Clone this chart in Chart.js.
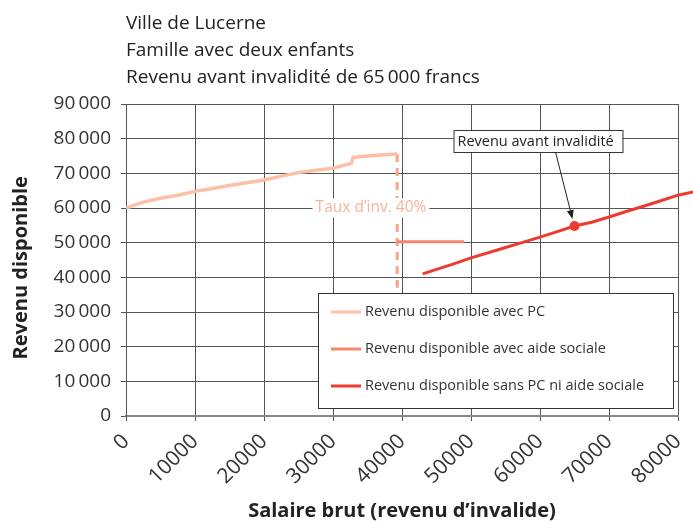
<!DOCTYPE html>
<html>
<head>
<meta charset="utf-8">
<script src="https://cdn.jsdelivr.net/npm/chart.js@4.4.1/dist/chart.umd.min.js"></script>
<style>
  html, body { margin: 0; padding: 0; background: #fff; }
  #wrap { width: 693px; height: 523px; }
</style>
</head>
<body>
<div id="wrap"><canvas id="chart" width="693" height="523"></canvas></div>
<script>
const FONT = '"Open Sans", "Noto Sans", sans-serif'

const titleLines = [
  "Ville de Lucerne",
  "Famille avec deux enfants",
  "Revenu avant invalidité de 65\u2009000 francs"
]

// Revenu disponible avec PC
const pcSalary = [0, 2500, 5000, 7500, 10000, 12500, 15000, 17500, 20000, 22500, 25000, 27500, 30000, 32700, 32900, 35000, 37000, 39300]
const pcIncome = [60000, 61700, 62800, 63700, 64800, 65600, 66500, 67300, 68100, 69200, 70200, 70900, 71500, 72900, 74600, 75000, 75300, 75600]

// Revenu disponible avec aide sociale
const aideSalary = [39300, 49000]
const aideIncome = [50300, 50300]

// Revenu disponible sans PC ni aide sociale
const sansSalary = [43000, 45000, 47500, 50000, 52500, 55000, 57500, 60000, 62500, 65000, 67500, 70000, 72500, 75000, 77500, 80000, 82200]
const sansIncome = [41000, 42300, 43900, 45600, 47100, 48600, 50100, 51600, 53200, 54800, 55900, 57400, 59000, 60500, 62100, 63700, 64600]

// seuil du taux d'invalidité (ligne pointillée)
const thresholdSalary = [39300, 39300]
const thresholdIncome = [75600, 37000]

const xMax = 80000
const incomeBefore = 65000
const thresholdLabel = "Taux d’inv. 40%"
const thresholdLabelAt = [35500, 60000]
const calloutText = "Revenu avant invalidité"

const seriesLabels = [
  "Revenu disponible avec PC",
  "Revenu disponible avec aide sociale",
  "Revenu disponible sans PC ni aide sociale"
]
const seriesColors = ["#fcc0a6", "#f4876b", "#ee3b30"]

function toPoints(xs, ys) {
  return xs.map((x, i) => ({ x: x, y: ys[i] }))
}

function drawArrow(ctx, x1, y1, x2, y2) {
  const a = Math.atan2(y2 - y1, x2 - x1)
  ctx.beginPath()
  ctx.moveTo(x1, y1)
  ctx.lineTo(x2 - 6 * Math.cos(a), y2 - 6 * Math.sin(a))
  ctx.stroke()
  ctx.beginPath()
  ctx.moveTo(x2, y2)
  ctx.lineTo(x2 - 9 * Math.cos(a) + 3.5 * Math.sin(a), y2 - 9 * Math.sin(a) - 3.5 * Math.cos(a))
  ctx.lineTo(x2 - 9 * Math.cos(a) - 3.5 * Math.sin(a), y2 - 9 * Math.sin(a) + 3.5 * Math.cos(a))
  ctx.closePath()
  ctx.fill()
}

const decor = {
  id: "decor",
  afterDatasetsDraw(chart) {
    const { ctx, chartArea, scales: { x, y } } = chart
    ctx.save()

    // étiquette du taux d'invalidité
    ctx.font = "15.5px " + FONT
    const lx = x.getPixelForValue(thresholdLabelAt[0])
    const ly = y.getPixelForValue(thresholdLabelAt[1])
    const lw = ctx.measureText(thresholdLabel).width
    ctx.fillStyle = "#fff"
    ctx.fillRect(lx - lw / 2 - 3, ly - 10, lw + 6, 20)
    ctx.fillStyle = "#f8b39a"
    ctx.textAlign = "center"
    ctx.textBaseline = "middle"
    ctx.fillText(thresholdLabel, lx, ly)

    // encadré "Revenu avant invalidité"
    const sansIdx = sansSalary.indexOf(incomeBefore)
    const px = x.getPixelForValue(incomeBefore)
    const py = y.getPixelForValue(sansIncome[sansIdx])
    ctx.font = "14.5px " + FONT
    const bx = px - 121, by = py - 96, bw = 169, bh = 22
    ctx.fillStyle = "#fff"
    ctx.fillRect(bx, by, bw, bh)
    ctx.strokeStyle = "#333"
    ctx.lineWidth = 1
    ctx.strokeRect(bx + 0.5, by + 0.5, bw, bh)
    ctx.fillStyle = "#222"
    ctx.textAlign = "left"
    ctx.fillText(calloutText, bx + 4, by + bh / 2 + 1)
    ctx.strokeStyle = "#222"
    ctx.fillStyle = "#222"
    drawArrow(ctx, px - 19, by + bh, px - 2, py - 7)

    // légende
    const gx = chartArea.left + 192, gy = chartArea.top + 189, gw = 355, gh = 115
    ctx.fillStyle = "#fff"
    ctx.fillRect(gx, gy, gw, gh)
    ctx.strokeStyle = "#333"
    ctx.strokeRect(gx + 0.5, gy + 0.5, gw, gh)
    ctx.font = "14.5px " + FONT
    chart.data.datasets.filter(d => d.label).forEach((d, i) => {
      const ry = gy + 19 + i * 37
      ctx.strokeStyle = d.borderColor
      ctx.lineWidth = 3
      ctx.beginPath()
      ctx.moveTo(gx + 13, ry)
      ctx.lineTo(gx + 43, ry)
      ctx.stroke()
      ctx.fillStyle = "#333"
      ctx.fillText(d.label, gx + 47, ry)
    })

    ctx.restore()
  },
  afterDraw(chart) {
    const { ctx } = chart
    ctx.save()
    ctx.font = "19px " + FONT
    ctx.fillStyle = "#222"
    ctx.textAlign = "left"
    ctx.textBaseline = "alphabetic"
    titleLines.forEach((t, i) => ctx.fillText(t, 126, 29 + i * 27))
    ctx.restore()
  }
}

new Chart(document.getElementById("chart").getContext("2d"), {
  type: "scatter",
  data: {
    datasets: [
      {
        label: seriesLabels[0],
        data: toPoints(pcSalary, pcIncome),
        borderColor: seriesColors[0],
        backgroundColor: seriesColors[0],
        borderWidth: 3.5,
        showLine: true,
        pointRadius: 0
      },
      {
        label: seriesLabels[1],
        data: toPoints(aideSalary, aideIncome),
        borderColor: seriesColors[1],
        backgroundColor: seriesColors[1],
        borderWidth: 3,
        showLine: true,
        pointRadius: 0
      },
      {
        label: seriesLabels[2],
        data: toPoints(sansSalary, sansIncome),
        borderColor: seriesColors[2],
        backgroundColor: seriesColors[2],
        borderWidth: 3,
        showLine: true,
        clip: false,
        pointRadius: c => (c.raw && c.raw.x === incomeBefore ? 5 : 0),
        pointBorderWidth: 0
      },
      {
        data: toPoints(thresholdSalary, thresholdIncome),
        borderColor: "#f7a487",
        borderWidth: 3,
        borderDash: [8, 6],
        showLine: true,
        pointRadius: 0
      }
    ]
  },
  options: {
    responsive: false,
    animation: false,
    devicePixelRatio: 1,
    layout: { padding: { top: 104, right: 15, bottom: 0, left: 0 } },
    plugins: {
      legend: { display: false },
      tooltip: { enabled: false }
    },
    scales: {
      x: {
        type: "linear",
        min: 0,
        // la courbe rouge dépasse un peu le bord droit
        afterDataLimits: s => { s.max = xMax },
        afterFit: s => {
          s.height = 107
          s.paddingLeft = 0
          s.paddingRight = 0
        },
        ticks: {
          stepSize: 10000,
          autoSkip: false,
          minRotation: 45,
          maxRotation: 45,
          padding: 8,
          color: "#333",
          font: { family: FONT, size: 21 },
          callback: v => String(v)
        },
        grid: { color: "#555", lineWidth: 1, tickLength: 5 },
        border: { color: "#888", width: 2 },
        title: {
          display: true,
          text: "Salaire brut (revenu d’invalide)",
          color: "#222",
          font: { family: FONT, size: 20, weight: "bold" },
          padding: { top: 0, bottom: 0 }
        }
      },
      y: {
        min: 0,
        max: 90000,
        afterFit: s => { s.width = 126 },
        ticks: {
          stepSize: 10000,
          padding: 10,
          color: "#333",
          font: { family: FONT, size: 19 },
          callback: v => (v === 0 ? "0" : Math.round(v / 1000) + "\u2009000")
        },
        grid: { color: "#555", lineWidth: 1, tickLength: 5 },
        border: { color: "#555", width: 1 },
        title: {
          display: true,
          text: "Revenu disponible   ",
          color: "#222",
          font: { family: FONT, size: 20, weight: "bold" },
          padding: { top: 9, bottom: 0 }
        }
      }
    }
  },
  plugins: [decor]
})
</script>
</body>
</html>
